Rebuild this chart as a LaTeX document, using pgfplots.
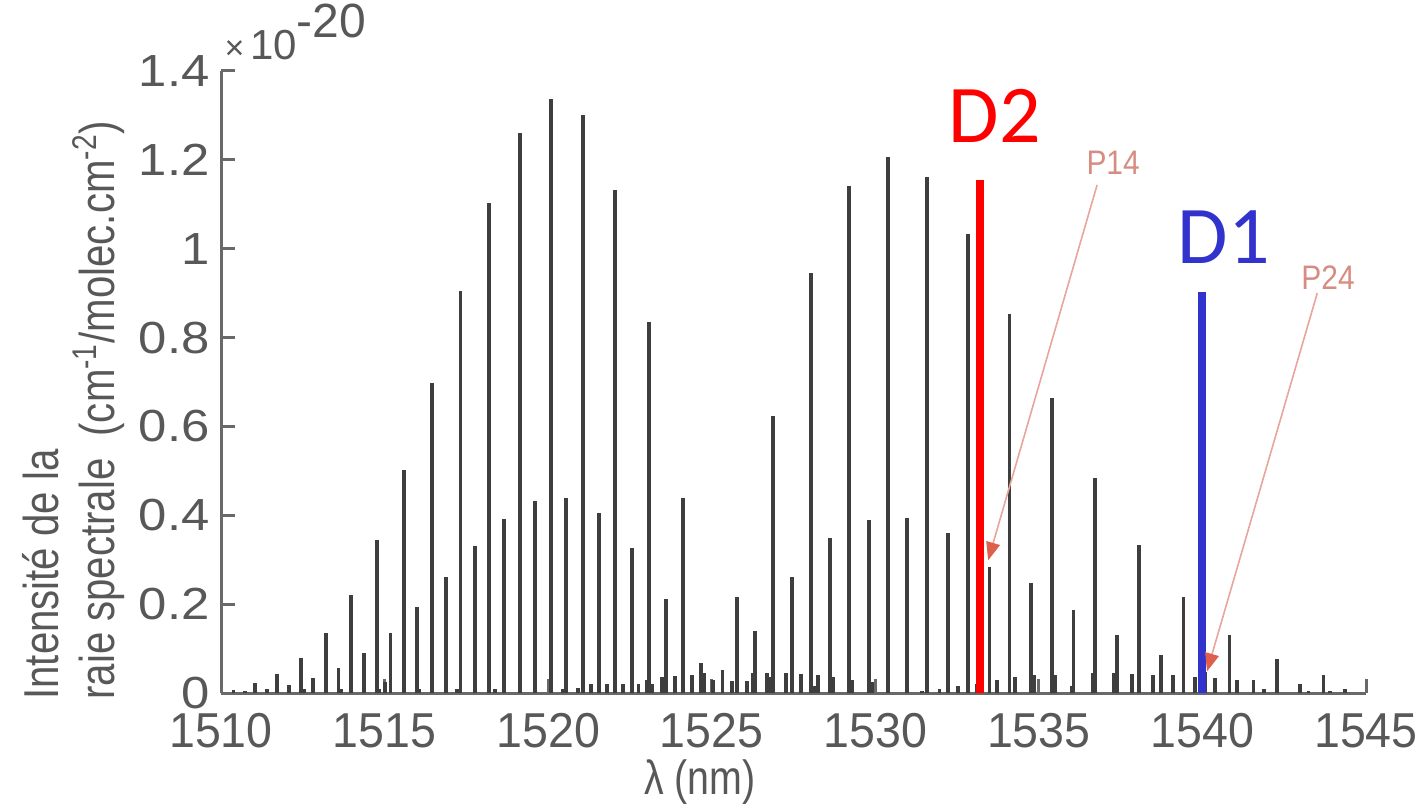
\documentclass[border=0pt]{standalone}
\usepackage{fontspec}
\setmainfont{Liberation Sans}
\newfontfamily\condfont[FakeStretch=0.82]{Liberation Sans}
\newfontfamily\smallcond[FakeStretch=0.88]{Liberation Sans}
\newfontfamily\xtickfont[FakeStretch=0.95]{Liberation Sans}
\newfontfamily\ytickfont[FakeStretch=1.13]{Liberation Sans}
\newfontfamily\calfont{Carlito}
\usepackage{pgfplots}
\usepackage{pgfplotstable}
\pgfplotsset{compat=1.18}
\usetikzlibrary{arrows.meta}

\definecolor{bargray}{RGB}{62,62,62}
\definecolor{axisgray}{RGB}{105,105,105}
\definecolor{labelgray}{RGB}{88,88,88}
\definecolor{dtwo}{RGB}{255,0,0}
\definecolor{done}{RGB}{50,50,205}
\definecolor{pline}{RGB}{232,165,155}
\definecolor{phead}{RGB}{222,95,75}
\definecolor{ptext}{RGB}{215,140,130}

% Line intensities (units of 1e-20 cm^-1/(molec.cm^-2)) against wavelength (nm)
\pgfplotstableread{
lambda I
1510.38 0.007
1510.73 0.005
1511.04 0.022
1511.40 0.008
1511.72 0.043
1512.08 0.017
1512.45 0.079
1512.55 0.008
1512.82 0.034
1513.21 0.134
1513.59 0.056
1513.67 0.010
1513.97 0.221
1514.37 0.090
1514.77 0.344
1514.83 0.010
1515.01 0.025
1515.18 0.135
1515.59 0.503
1516.00 0.194
1516.07 0.010
1516.44 0.697
1516.87 0.261
1517.21 0.010
1517.32 0.905
1517.77 0.331
1518.20 1.104
1518.38 0.010
1518.65 0.392
1519.14 1.261
1519.60 0.432
1520.08 1.337
1520.46 0.010
1520.55 0.440
1520.91 0.012
1521.06 1.300
1521.30 0.020
1521.56 0.406
1521.79 0.020
1522.05 1.132
1522.30 0.020
1522.56 0.327
1522.76 0.020
1523.01 0.030
1523.08 0.836
1523.17 0.020
1523.47 0.035
1523.60 0.211
1523.88 0.038
1524.12 0.438
1524.39 0.040
1524.67 0.067
1524.77 0.046
1525.05 0.030
1525.33 0.051
1525.61 0.028
1525.77 0.216
1526.09 0.027
1526.25 0.046
1526.33 0.139
1526.70 0.046
1526.80 0.035
1526.88 0.624
1527.27 0.046
1527.46 0.261
1527.72 0.043
1528.03 0.945
1528.12 0.015
1528.26 0.040
1528.62 0.348
1528.72 0.035
1529.20 1.141
1529.30 0.030
1529.80 0.390
1529.89 0.025
1530.38 1.207
1530.98 0.394
1531.42 0.005
1531.59 1.162
1531.96 0.010
1532.22 0.361
1532.54 0.015
1532.83 1.032
1533.10 0.020
1533.49 0.284
1533.71 0.030
1534.10 0.854
1534.27 0.035
1534.75 0.248
1534.85 0.040
1535.40 0.663
1535.50 0.040
1536.01 0.015
1536.06 0.186
1536.64 0.045
1536.72 0.483
1537.28 0.045
1537.38 0.130
1537.84 0.043
1538.06 0.333
1538.50 0.040
1538.74 0.085
1539.11 0.040
1539.42 0.215
1539.78 0.035
1540.08 0.047
1540.39 0.033
1540.83 0.130
1541.05 0.030
1541.56 0.030
1541.87 0.010
1542.27 0.076
1542.99 0.020
1543.24 0.005
1543.70 0.040
1543.90 0.005
1544.36 0.010
}\linetable

\begin{document}
\begin{tikzpicture}
\useasboundingbox (0pt,0pt) rectangle (710.5pt,405pt);
\begin{axis}[
  at={(110.5pt,58.5pt)}, anchor=south west,
  scale only axis, width=572.5pt, height=311pt,
  xmin=1510, xmax=1545, ymin=0, ymax=1.4,
  axis x line*=bottom, axis y line*=left,
  axis line style={-, draw=axisgray, line width=1.5pt},
  tick align=inside, major tick length=7pt,
  tick style={draw=axisgray, line width=1.5pt},
  xtick={1510,1515,...,1545},
  xticklabels={1510,1515,1520,1525,1530,1535,1540,1545},
  ytick={0,0.2,0.4,0.6,0.8,1,1.2,1.4},
  yticklabels={0,0.2,0.4,0.6,0.8,1,1.2,1.4},
  xticklabel style={font=\xtickfont\fontsize{24.5}{24.5}\selectfont, text=labelgray, inner sep=0pt, yshift=-10pt},
  yticklabel style={font=\ytickfont\fontsize{22.5}{22.5}\selectfont, text=labelgray, inner sep=0pt, xshift=-5.5pt},
  clip=false,
]
\addplot[ycomb, draw=bargray, line width=1.9pt, mark=none] table[x=lambda, y=I] {\linetable};

% D2 and D1 laser lines
\addplot[draw=dtwo, line width=3.8pt, mark=none] coordinates {(1533.2,0) (1533.2,1.155)};
\addplot[draw=done, line width=3.8pt, mark=none] coordinates {(1539.98,0) (1539.98,0.902)};

% P-branch line annotations
\draw[pline, line width=0.8pt, -{Triangle[length=9pt,width=7pt,fill=phead,color=phead]}]
  (axis cs:1536.78,1.1435) -- (axis cs:1533.45,0.2987);
\draw[pline, line width=0.8pt, -{Triangle[length=9pt,width=7pt,fill=phead,color=phead]}]
  (axis cs:1543.51,0.900) -- (axis cs:1540.14,0.0487);
\node[text=ptext, font=\smallcond\fontsize{17}{17}\selectfont] at (axis cs:1537.27,1.193) {P14};
\node[text=ptext, font=\smallcond\fontsize{17}{17}\selectfont] at (axis cs:1543.84,0.934) {P24};

\node[anchor=base west, inner sep=0pt, text=dtwo, font=\calfont\fontsize{41}{41}\selectfont] at (axis cs:1532.23,1.238) {D2};
\node[anchor=base west, inner sep=0pt, text=done, font=\calfont\fontsize{41}{41}\selectfont] at (axis cs:1539.23,0.9657) {D1};

% scale factor of the intensity axis
\node[anchor=base west, inner sep=0pt, text=labelgray] at (axis cs:1510.10,1.425)
  {{\fontsize{17}{17}\selectfont ×\,}{\fontsize{21}{21}\selectfont 10}\raisebox{11pt}{\fontsize{24}{24}\selectfont -20}};
\end{axis}

\node[rotate=90, anchor=north west, align=left, inner sep=0pt, text=labelgray,
      font=\condfont\fontsize{24.5}{28}\selectfont] at (11pt,55pt)
  {Intensité de la\\raie spectrale\hspace{0.45em}(cm\textsuperscript{-1}/molec.cm\textsuperscript{-2})};
\node[anchor=center, inner sep=0pt, text=labelgray, font=\condfont\fontsize{24}{24}\selectfont] at (350pt,14pt) {λ (nm)};
\end{tikzpicture}
\end{document}
